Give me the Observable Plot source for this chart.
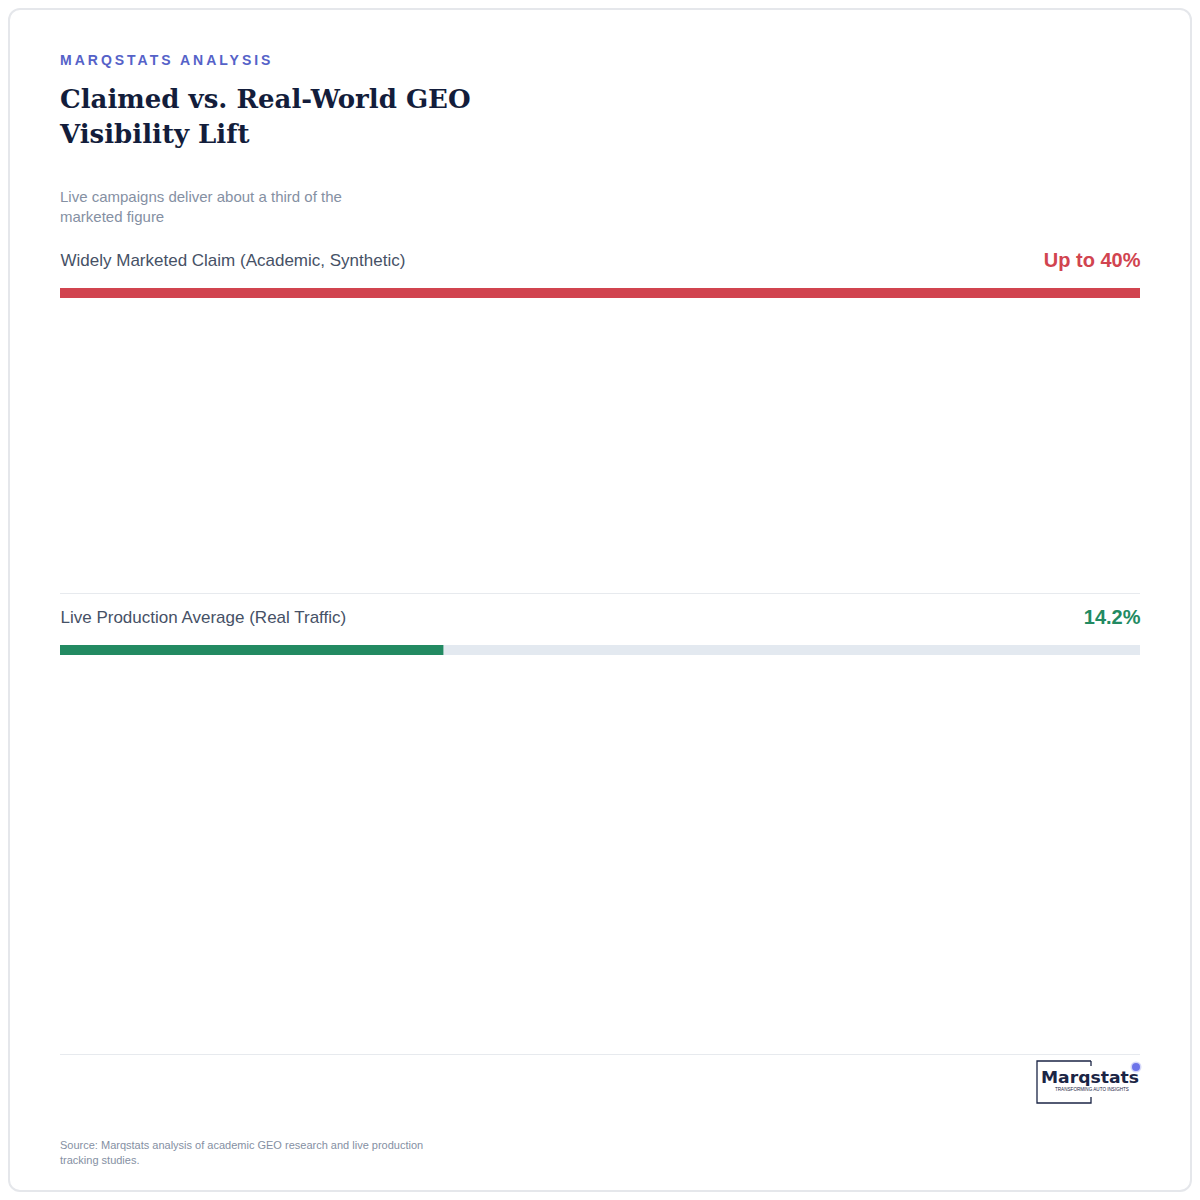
<!DOCTYPE html>
<html>
<head>
<meta charset="utf-8">
<script src="https://cdn.jsdelivr.net/npm/d3@7"></script>
<script src="https://cdn.jsdelivr.net/npm/@observablehq/plot@0.6"></script>
<style>
  html, body { margin: 0; padding: 0; background: #ffffff; }
  body { width: 1200px; height: 1200px; position: relative; font-family: "Liberation Sans", Arial, sans-serif; }
  .card { position: absolute; left: 8px; top: 8px; width: 1184px; height: 1184px; box-sizing: border-box; border: 2px solid #e5e7eb; border-radius: 12px; }
  .abs { position: absolute; left: 60px; }
  .kicker { top: 50px; font-size: 14px; line-height: 20px; font-weight: bold; letter-spacing: 3px; color: #5562c8; }
  .title { top: 82px; width: 470px; font-family: "DejaVu Serif", serif; font-weight: bold; font-size: 26px; line-height: 35px; color: #131d3b; }
  .subtitle { top: 187px; width: 330px; font-size: 15px; line-height: 20px; color: #8590a3; }
  #chart { top: 236px; }
  .rule { top: 1054px; width: 1080px; height: 1px; background: #e7eaee; }
  .logo { left: 1036px; top: 1060px; position: absolute; }
  .source { top: 1138px; width: 390px; font-size: 11px; line-height: 15px; color: #8590a3; }
</style>
</head>
<body>
<div class="card"></div>
<div class="abs kicker">MARQSTATS ANALYSIS</div>
<div class="abs title">Claimed vs. Real-World GEO Visibility Lift</div>
<div class="abs subtitle">Live campaigns deliver about a third of the marketed figure</div>
<div class="abs" id="chart"></div>
<div class="abs rule"></div>
<svg class="logo" width="108" height="46" viewBox="0 0 108 46">
  <path d="M55 1 H1 V43 H55 V37" fill="none" stroke="#1b2545" stroke-width="1.3"/>
  <path d="M55 1 V6" fill="none" stroke="#1b2545" stroke-width="1.3"/>
  <circle cx="100" cy="7" r="4" fill="#5b63e6" opacity="0.85"/>
  <circle cx="100" cy="7" r="5.5" fill="#5b63e6" opacity="0.25"/>
  <text x="5" y="23" font-family="DejaVu Sans, sans-serif" font-size="16.5" font-weight="600" fill="#1b2545" textLength="98" lengthAdjust="spacingAndGlyphs">Marqstats</text>
  <text x="19" y="31" font-family="Liberation Sans, sans-serif" font-size="4.6" fill="#1b2545">TRANSFORMING AUTO INSIGHTS</text>
</svg>
<div class="abs source">Source: Marqstats analysis of academic GEO research and live production tracking studies.</div>
<script>
const categories = ["Widely Marketed Claim (Academic, Synthetic)", "Live Production Average (Real Traffic)"];
const values = [40, 14.2];
const valueLabels = ["Up to 40%", "14.2%"];
const barColors = ["#d1444f", "#228a62"];
const scaleMax = 40;

const rows = categories.map((c, i) => ({cat: c, value: values[i], label: valueLabels[i], color: barColors[i]}));

const bandH = 357;
const chart = Plot.plot({
  width: 1080,
  height: 818,
  margin: 0,
  style: {fontFamily: "Liberation Sans, Arial, sans-serif", background: "transparent", overflow: "visible"},
  x: {domain: [0, scaleMax], range: [0, 1080], axis: null},
  y: {type: "band", domain: categories, range: [0, bandH * categories.length], padding: 0, axis: null},
  color: {type: "identity"},
  marks: [
    Plot.ruleY(rows.slice(1), {y: "cat", dy: -bandH / 2, stroke: "#e7eaee", strokeWidth: 1}),
    Plot.barX(rows, {x1: d => 0, x2: d => scaleMax, y: "cat", fill: "#e3e9f0", insetTop: 52, insetBottom: bandH - 62}),
    Plot.barX(rows, {x1: d => 0, x2: "value", y: "cat", fill: "color", insetTop: 52, insetBottom: bandH - 62}),
    Plot.text(rows, {x: d => 0, y: "cat", text: "cat", textAnchor: "start", dy: 24 - bandH / 2, fontSize: 17, fill: "#465166"}),
    Plot.text(rows, {x: d => scaleMax, y: "cat", text: "label", textAnchor: "end", dy: 24 - bandH / 2, fontSize: 20, fontWeight: "bold", fill: "color"})
  ]
});
document.getElementById("chart").appendChild(chart);
</script>
</body>
</html>
